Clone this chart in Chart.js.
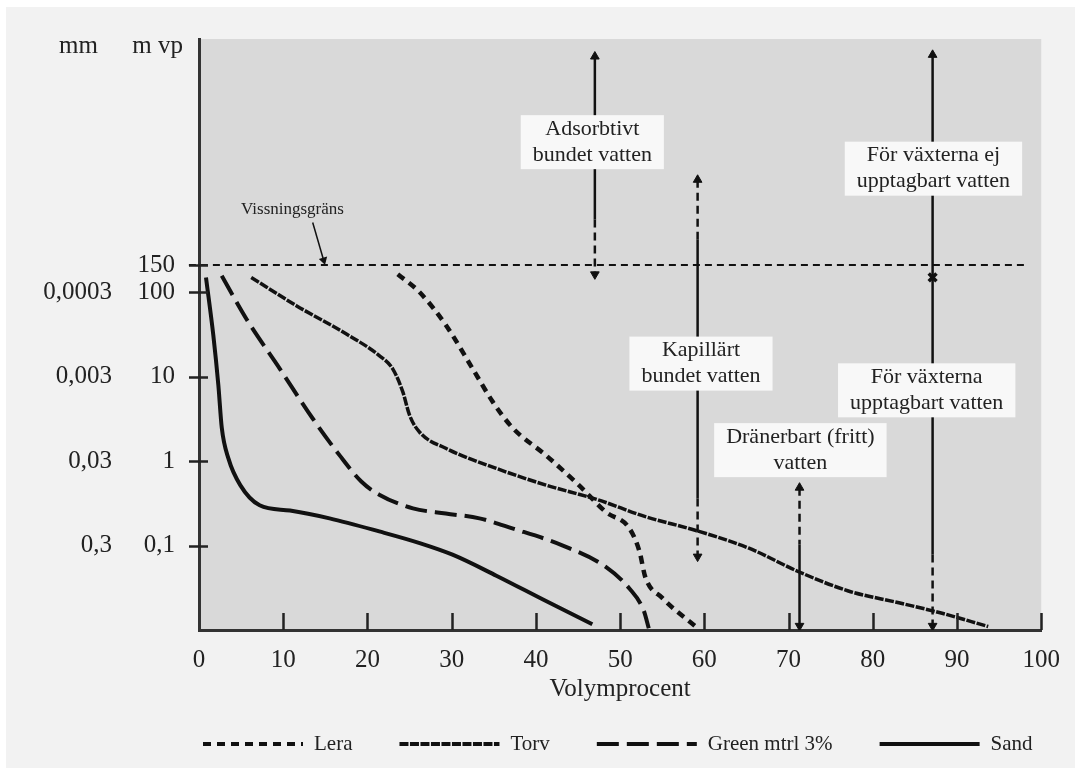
<!DOCTYPE html>
<html>
<head>
<meta charset="utf-8">
<title>Vattenhållning – Volymprocent</title>
<script src="https://cdn.jsdelivr.net/npm/chart.js@4.4.1/dist/chart.umd.min.js"></script>
<style>
  html, body { margin: 0; padding: 0; background: #ffffff; }
  #wrap { width: 1075px; height: 769px; }
</style>
</head>
<body>
<div id="wrap"><canvas id="chart" width="1075" height="769"></canvas></div>
<script>
  // ---- curves: Volymprocent (x) against m vp (y) ----
  const leraX = [23.6, 26.2, 29.3, 32.5, 34.9, 37.2, 41.2, 45.1, 48.3, 51.1, 52.3, 53.0, 55.0, 59.2];
  const leraY = [164, 100, 41, 12.4, 5.0, 2.5, 1.17, 0.52, 0.25, 0.16, 0.085, 0.042, 0.024, 0.0105];

  const torvX = [6.2, 11.6, 17.5, 21.4, 23.0, 24.2, 25.0, 26.2, 29.3, 35.3, 41.2, 47.3, 53.0, 59.1, 65.3, 71.2, 77.1, 83.1, 88.0, 93.7];
  const torvY = [150, 69, 32, 17.8, 12.4, 6.6, 3.5, 2.2, 1.42, 0.82, 0.52, 0.35, 0.22, 0.15, 0.093, 0.049, 0.029, 0.021, 0.016, 0.011];

  const greenX = [2.7, 5.65, 9.6, 13.5, 16.7, 19.3, 21.4, 25.4, 29.3, 33.3, 37.2, 43.2, 48.3, 51.1, 52.8, 53.4];
  const greenY = [157, 48, 12.4, 3.2, 1.17, 0.57, 0.40, 0.276, 0.24, 0.21, 0.16, 0.10, 0.056, 0.031, 0.017, 0.0105];

  const sandX = [0.83, 1.7, 2.3, 2.7, 3.5, 4.9, 7.2, 10.8, 15.5, 21.4, 26.2, 30.1, 35.3, 41.2, 46.7];
  const sandY = [150, 31, 7.9, 2.5, 1.07, 0.52, 0.30, 0.26, 0.21, 0.147, 0.107, 0.078, 0.044, 0.022, 0.0117];

  // ---- axes ----
  const xTicks = [0, 10, 20, 30, 40, 50, 60, 70, 80, 90, 100];
  const wiltLineY = 210; // "150" – the original draws this line above its true height
  const mvpTicks = [0.1, 1, 10, 100, wiltLineY];
  const mvpLabels = ['0,1', '1', '10', '100', '150'];
  const mmTicks = [0.1, 1, 10, 100];
  const mmLabels = ['0,3', '0,03', '0,003', '0,0003'];
  const wiltLineX = [-1.2, 98.5];

  // ---- vertical arrows (segments from top to bottom) ----
  const arrowSegX    = [47.0, 47.0, 59.2, 59.2, 59.2, 71.3, 71.3, 87.1, 87.1, 87.1];
  const arrowSegTop  = [62000, 730, 2150, 424, 0.36, 0.485, 0.103, 64900, 150, 0.0785];
  const arrowSegBot  = [730, 163, 424, 0.36, 0.074, 0.103, 0.0112, 150, 0.0785, 0.0112];
  const arrowSegDash = [false, true, true, false, true, true, false, false, false, true];
  const headUpX = [47.0, 59.2, 71.3, 87.1];
  const headUpY = [62000, 2150, 0.485, 64900];
  const headDownX = [47.0, 59.2, 71.3, 87.1];
  const headDownY = [163, 0.074, 0.0112, 0.0112];
  const markX = [87.1];
  const markY = [150];
  const leaderX = [13.5, 14.8];
  const leaderY = [670, 240];

  // ---- text notes ----
  const noteText = [
    ['Adsorbtivt', 'bundet vatten'],
    ['Kapillärt', 'bundet vatten'],
    ['Dränerbart (fritt)', 'vatten'],
    ['För växterna ej', 'upptagbart vatten'],
    ['För växterna', 'upptagbart vatten']
  ];
  const noteX = [46.7, 59.6, 71.4, 87.2, 86.4];
  const noteY = [6000, 14.3, 1.35, 2910, 6.9];
  const wiltText = 'Vissningsgräns';
  const wiltTextX = 11.1;
  const wiltTextY = 960;

  const SERIF = '"Liberation Serif", "DejaVu Serif", serif';
  const INK = '#222222';
  const LINE = '#111111';

  function toPoints(xs, ys) {
    return xs.map((x, i) => ({ x: x, y: ys[i] }));
  }

  const curveBase = {
    borderColor: LINE,
    pointRadius: 0,
    fill: false,
    cubicInterpolationMode: 'monotone',
    isCurve: true
  };

  const datasets = [
    Object.assign({ label: 'Lera', data: toPoints(leraX, leraY), borderDash: [8, 6], borderWidth: 4.5 }, curveBase),
    Object.assign({ label: 'Torv', data: toPoints(torvX, torvY), borderDash: [9, 1.5], borderWidth: 3.5 }, curveBase),
    Object.assign({ label: 'Green mtrl 3%', data: toPoints(greenX, greenY), borderDash: [22, 8], borderWidth: 4 }, curveBase),
    Object.assign({ label: 'Sand', data: toPoints(sandX, sandY), borderDash: [], borderWidth: 4 }, curveBase)
  ];

  // wilting point line
  datasets.push({
    label: 'wilt',
    data: toPoints(wiltLineX, [wiltLineY, wiltLineY]),
    borderColor: LINE,
    borderWidth: 2,
    borderDash: [7, 5],
    pointRadius: 0,
    clip: false
  });

  // arrow shafts
  arrowSegX.forEach((x, i) => {
    datasets.push({
      label: 'arrow' + i,
      data: toPoints([x, x], [arrowSegTop[i], arrowSegBot[i]]),
      borderColor: LINE,
      borderWidth: 2.5,
      borderDash: arrowSegDash[i] ? [8, 5] : [],
      pointRadius: 0
    });
  });

  // leader line from "Vissningsgräns"
  datasets.push({
    label: 'leader',
    data: toPoints(leaderX, leaderY),
    borderColor: LINE,
    borderWidth: 1.5,
    pointRadius: [0, 3.5],
    pointStyle: 'triangle',
    rotation: 164,
    pointBackgroundColor: LINE,
    pointBorderColor: LINE
  });

  // arrow heads
  datasets.push({
    label: 'headsUp',
    data: toPoints(headUpX, headUpY),
    showLine: false,
    pointStyle: 'triangle',
    pointRadius: 5,
    rotation: 0,
    pointBackgroundColor: LINE,
    pointBorderColor: LINE,
    pointBorderWidth: 1
  });
  datasets.push({
    label: 'headsDown',
    data: toPoints(headDownX, headDownY),
    showLine: false,
    pointStyle: 'triangle',
    pointRadius: 5,
    rotation: 180,
    pointBackgroundColor: LINE,
    pointBorderColor: LINE,
    pointBorderWidth: 1
  });
  datasets.push({
    label: 'mark',
    data: toPoints(markX, markY),
    showLine: false,
    pointStyle: 'crossRot',
    pointRadius: 5.5,
    pointBorderColor: LINE,
    pointBorderWidth: 3.5
  });

  // background: white frame, light paper, gray plot area
  const paperPlugin = {
    id: 'paper',
    beforeDraw(chart) {
      const { ctx, chartArea: a, width, height } = chart;
      ctx.save();
      ctx.fillStyle = '#ffffff';
      ctx.fillRect(0, 0, width, height);
      ctx.fillStyle = '#f2f2f2';
      ctx.fillRect(6, 7, width - 6, height - 8);
      ctx.fillStyle = '#d9d9d9';
      ctx.fillRect(a.left, a.top, a.right - a.left, a.bottom - a.top);
      ctx.restore();
    }
  };

  // text boxes on the arrows
  const notesPlugin = {
    id: 'notes',
    afterDatasetsDraw(chart) {
      const { ctx, scales } = chart;
      ctx.save();
      ctx.font = '22px ' + SERIF;
      ctx.textAlign = 'center';
      ctx.textBaseline = 'middle';
      const lh = 26;
      noteText.forEach((lines, i) => {
        const cx = scales.x.getPixelForValue(noteX[i]);
        const cy = scales.y.getPixelForValue(noteY[i]);
        const w = Math.max(...lines.map(t => ctx.measureText(t).width)) + 24;
        const h = lines.length * lh + 2;
        ctx.fillStyle = '#f8f8f8';
        ctx.fillRect(cx - w / 2, cy - h / 2, w, h);
        ctx.fillStyle = INK;
        lines.forEach((t, j) => {
          ctx.fillText(t, cx, cy - h / 2 + 1 + lh * (j + 0.5));
        });
      });
      ctx.font = '17px ' + SERIF;
      ctx.fillStyle = INK;
      ctx.fillText(wiltText, scales.x.getPixelForValue(wiltTextX), scales.y.getPixelForValue(wiltTextY));
      ctx.restore();
    }
  };

  // tick marks crossing the axes, column headers and the legend row
  const framePlugin = {
    id: 'frame',
    afterDraw(chart) {
      const { ctx, chartArea: a, scales } = chart;
      ctx.save();
      ctx.strokeStyle = INK;
      ctx.lineWidth = 2.5;
      ctx.beginPath();
      mvpTicks.forEach(v => {
        const py = Math.round(scales.y.getPixelForValue(v)) + 0.5;
        ctx.moveTo(a.left - 10, py);
        ctx.lineTo(a.left + 9, py);
      });
      xTicks.slice(1).forEach(v => {
        const px = Math.round(scales.x.getPixelForValue(v)) + 0.5;
        ctx.moveTo(px, a.bottom);
        ctx.lineTo(px, a.bottom - 17);
      });
      ctx.stroke();

      ctx.fillStyle = INK;
      ctx.font = '25px ' + SERIF;
      ctx.textAlign = 'right';
      ctx.textBaseline = 'alphabetic';
      ctx.fillText('mm', scales.yMm.right - 22, a.top + 14);
      ctx.fillText('m vp', scales.y.right - 16, a.top + 14);

      // legend
      ctx.font = '21px ' + SERIF;
      ctx.textAlign = 'left';
      ctx.textBaseline = 'middle';
      const ly = 744;
      let lx = a.left + 4;
      chart.data.datasets.filter(d => d.isCurve).forEach(d => {
        ctx.beginPath();
        ctx.setLineDash(d.borderDash);
        ctx.lineWidth = 4;
        ctx.strokeStyle = LINE;
        ctx.moveTo(lx, ly);
        ctx.lineTo(lx + 100, ly);
        ctx.stroke();
        ctx.setLineDash([]);
        ctx.fillText(d.label, lx + 111, ly);
        lx += 111 + ctx.measureText(d.label).width + 47;
      });
      ctx.restore();
    }
  };

  Chart.defaults.font.family = SERIF;
  Chart.defaults.color = INK;

  new Chart(document.getElementById('chart'), {
    type: 'line',
    data: { datasets: datasets },
    options: {
      responsive: false,
      animation: false,
      events: [],
      layout: { padding: { top: 38, right: 32, bottom: 64, left: 0 } },
      plugins: {
        legend: { display: false },
        tooltip: { enabled: false }
      },
      scales: {
        x: {
          type: 'linear',
          min: 0,
          max: 100,
          afterBuildTicks: axis => { axis.ticks = xTicks.map(v => ({ value: v })); },
          afterFit: axis => { axis.height = 75; },
          ticks: { font: { size: 25 }, color: INK, padding: 15, maxRotation: 0 },
          grid: { display: false, drawTicks: false },
          border: { display: true, color: '#333333', width: 3 },
          title: {
            display: true,
            text: 'Volymprocent',
            font: { size: 25 },
            color: INK,
            padding: { top: 0, bottom: 1 }
          }
        },
        y: {
          type: 'logarithmic',
          position: 'left',
          weight: 0,
          min: 0.01,
          max: 100000,
          afterBuildTicks: axis => { axis.ticks = mvpTicks.map(v => ({ value: v })); },
          afterFit: axis => { axis.width = 79; },
          ticks: {
            font: { size: 25 },
            color: INK,
            padding: 24,
            autoSkip: false,
            callback: v => mvpLabels[mvpTicks.indexOf(v)]
          },
          grid: { display: false, drawTicks: false },
          border: { display: true, color: '#333333', width: 3 }
        },
        yMm: {
          type: 'logarithmic',
          position: 'left',
          weight: 1,
          min: 0.01,
          max: 100000,
          afterBuildTicks: axis => { axis.ticks = mmTicks.map(v => ({ value: v })); },
          afterFit: axis => { axis.width = 120; },
          ticks: {
            font: { size: 25 },
            color: INK,
            padding: 8,
            autoSkip: false,
            callback: v => mmLabels[mmTicks.indexOf(v)]
          },
          grid: { display: false, drawTicks: false },
          border: { display: false }
        }
      }
    },
    plugins: [paperPlugin, notesPlugin, framePlugin]
  });
</script>
</body>
</html>
